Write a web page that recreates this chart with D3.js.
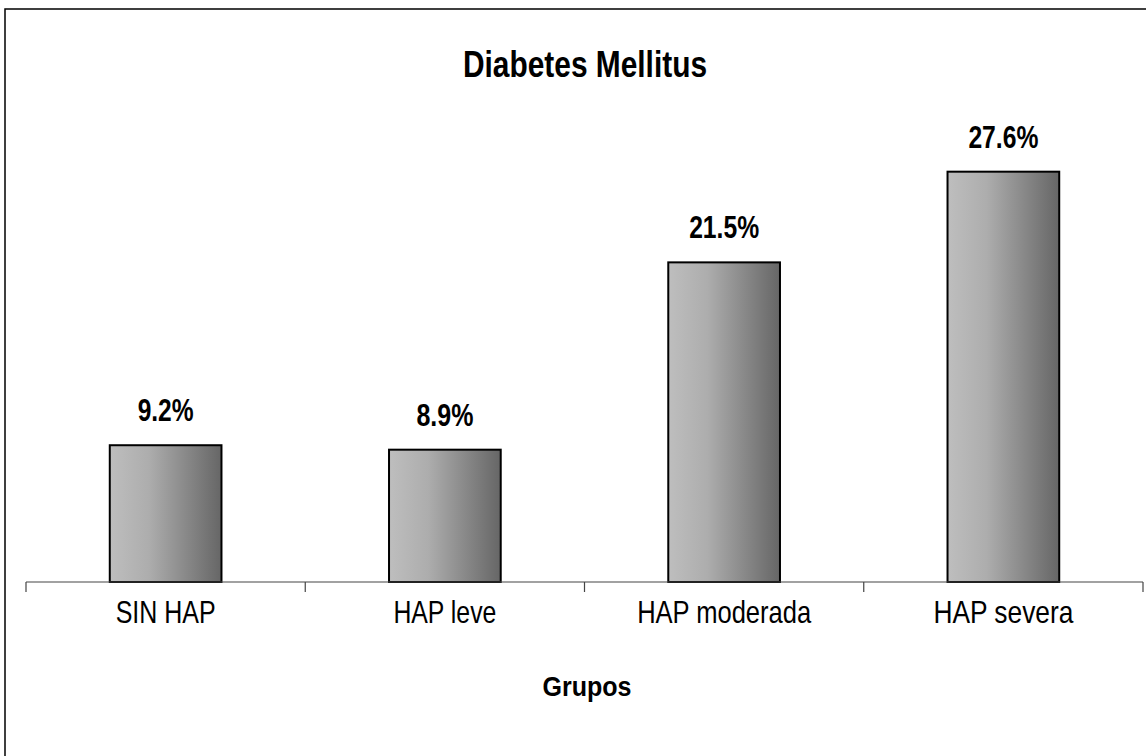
<!DOCTYPE html>
<html>
<head>
<meta charset="utf-8">
<script src="https://cdn.jsdelivr.net/npm/d3@7"></script>
<style>
  html, body { margin: 0; padding: 0; background: #fff; }
  svg { display: block; }
  text { font-family: "Liberation Sans", Arial, sans-serif; fill: #000; }
</style>
</head>
<body>
<svg id="chart" width="1146" height="756"></svg>
<script>
// Prevalence of diabetes mellitus by pulmonary hypertension group
const categories = ["SIN HAP", "HAP leve", "HAP moderada", "HAP severa"];
const values = [9.2, 8.9, 21.5, 27.6];
const valueLabels = ["9.2%", "8.9%", "21.5%", "27.6%"];
const categoryLabelWidths = [100, 103, 174, 140];
const valueLabelWidths = [56, 57, 70, 70];
const title = "Diabetes Mellitus";
const xTitle = "Grupos";

const svg = d3.select("#chart");

// frame around the chart area
svg.append("rect")
  .attr("x", 5).attr("y", 9)
  .attr("width", 1160).attr("height", 770)
  .attr("fill", "#fff")
  .attr("stroke", "#000").attr("stroke-width", 1.5);

const defs = svg.append("defs");
const grad = defs.append("linearGradient")
  .attr("id", "barFill")
  .attr("x1", "0%").attr("y1", "0%").attr("x2", "100%").attr("y2", "0%");
grad.append("stop").attr("offset", "0%").attr("stop-color", "#bebebe");
grad.append("stop").attr("offset", "35%").attr("stop-color", "#adadad");
grad.append("stop").attr("offset", "100%").attr("stop-color", "#666666");

const x = d3.scaleBand().domain(categories).range([26, 1143]).padding(0);
const y = d3.scaleLinear().domain([0, 30]).range([582, 136]);
const barRatio = 0.4;
const barW = x.bandwidth() * barRatio;
const barX = d => x(d) + (x.bandwidth() - barW) / 2;

// bars
svg.append("g").selectAll("rect")
  .data(categories)
  .join("rect")
  .attr("x", d => barX(d))
  .attr("y", (d, i) => y(values[i]))
  .attr("width", barW)
  .attr("height", (d, i) => y(0) - y(values[i]))
  .attr("fill", "url(#barFill)")
  .attr("stroke", "#000")
  .attr("stroke-width", 2);

// category axis: baseline and boundary ticks
const axis = svg.append("g").attr("stroke", "#444").attr("stroke-width", 1.2);
axis.append("line")
  .attr("x1", x.range()[0]).attr("x2", x.range()[1])
  .attr("y1", y(0)).attr("y2", y(0));
const boundaries = categories.map(c => x(c)).concat([x.range()[1]]);
axis.selectAll("line.tick")
  .data(boundaries)
  .join("line")
  .attr("class", "tick")
  .attr("x1", d => d).attr("x2", d => d)
  .attr("y1", y(0)).attr("y2", y(0) + 10);

// category labels
svg.append("g").selectAll("text")
  .data(categories)
  .join("text")
  .attr("x", d => x(d) + x.bandwidth() / 2)
  .attr("y", 623)
  .attr("text-anchor", "middle")
  .attr("font-size", 32)
  .attr("textLength", (d, i) => categoryLabelWidths[i])
  .attr("lengthAdjust", "spacingAndGlyphs")
  .text(d => d);

// value labels above bars
svg.append("g").selectAll("text")
  .data(categories)
  .join("text")
  .attr("x", d => x(d) + x.bandwidth() / 2)
  .attr("y", (d, i) => y(values[i]) - 24)
  .attr("text-anchor", "middle")
  .attr("font-size", 32)
  .attr("font-weight", "bold")
  .attr("textLength", (d, i) => valueLabelWidths[i])
  .attr("lengthAdjust", "spacingAndGlyphs")
  .text((d, i) => valueLabels[i]);

// chart title
svg.append("text")
  .attr("x", 585).attr("y", 77)
  .attr("text-anchor", "middle")
  .attr("font-size", 37)
  .attr("font-weight", "bold")
  .attr("textLength", 244)
  .attr("lengthAdjust", "spacingAndGlyphs")
  .text(title);

// axis title
svg.append("text")
  .attr("x", 587).attr("y", 696)
  .attr("text-anchor", "middle")
  .attr("font-size", 27)
  .attr("font-weight", "bold")
  .attr("textLength", 89)
  .attr("lengthAdjust", "spacingAndGlyphs")
  .text(xTitle);
</script>
</body>
</html>
